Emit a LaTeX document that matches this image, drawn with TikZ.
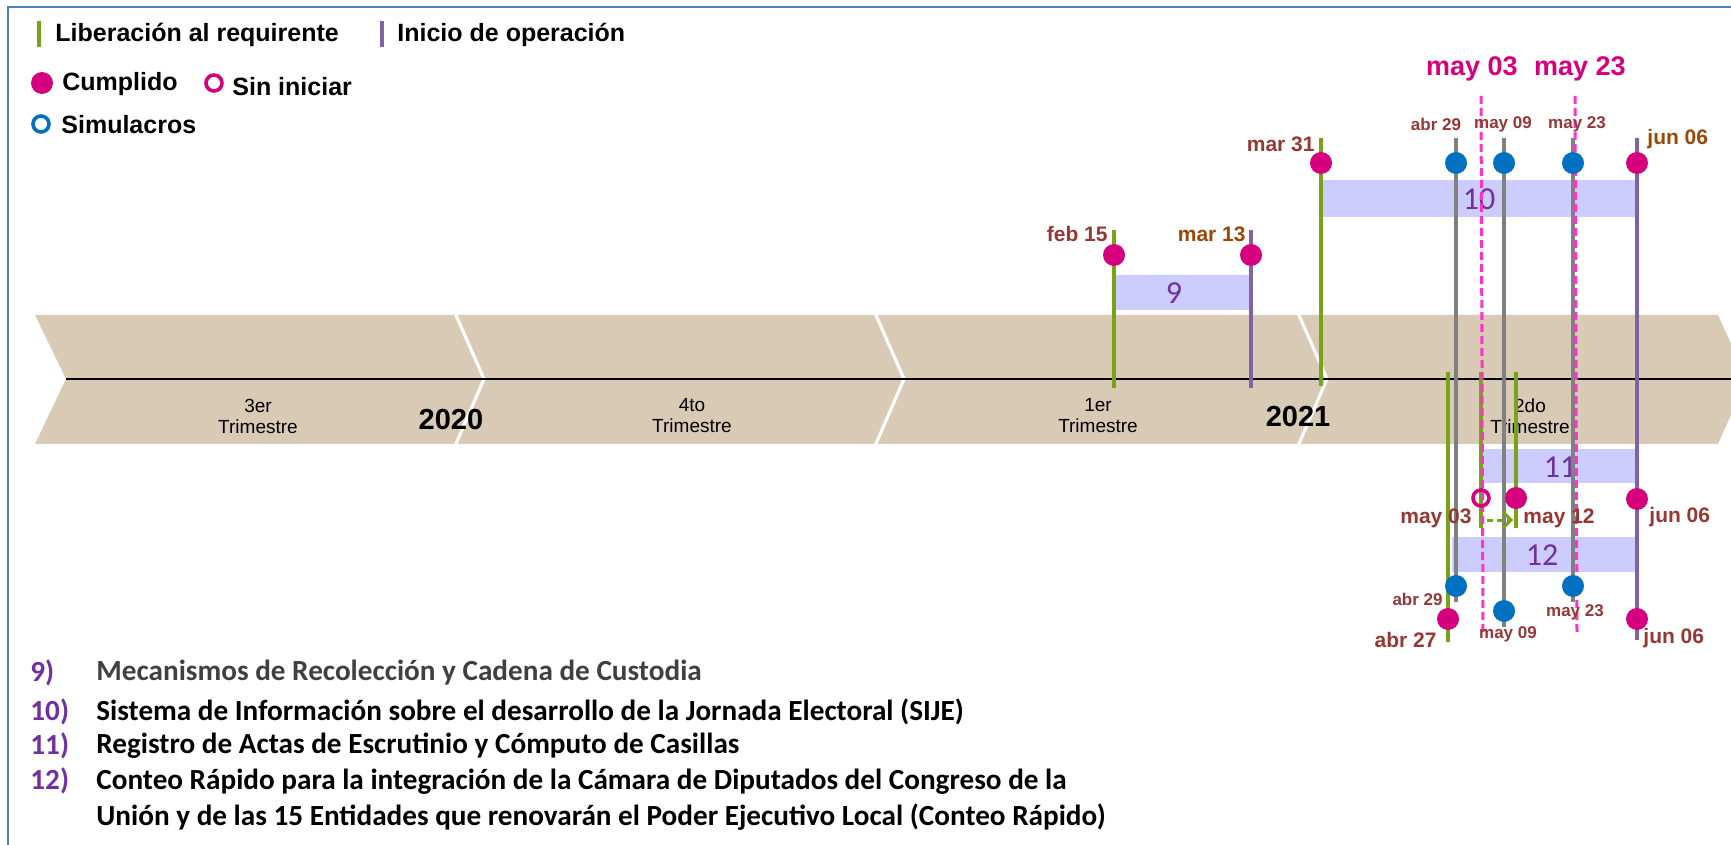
\documentclass[tikz,border=0pt]{standalone}
\usepackage{fontspec}
\setmainfont{Liberation Sans}
\newfontfamily\listfont{Carlito}
\usetikzlibrary{arrows.meta}

\definecolor{bandtan}{RGB}{216,202,180}
\definecolor{libgreen}{RGB}{122,162,24}
\definecolor{inipurple}{RGB}{128,100,162}
\definecolor{simgray}{RGB}{128,128,128}
\definecolor{cutpink}{RGB}{255,51,204}
\definecolor{barblue}{RGB}{204,204,255}
\definecolor{donemag}{RGB}{214,0,127}
\definecolor{drillblue}{RGB}{0,112,192}
\definecolor{datered}{RGB}{149,55,53}
\definecolor{dateorange}{RGB}{152,72,7}
\definecolor{numpurple}{RGB}{112,48,160}
\definecolor{frameblue}{RGB}{79,129,189}

\begin{document}
\begin{tikzpicture}[
  x=0.5pt, y=-0.5pt,
  band/.style={fill=bandtan},
  gap/.style={draw=white, line width=1.6pt},
  axis/.style={draw=black, line width=1.3pt},
  libline/.style={draw=libgreen, line width=2pt},
  iniline/.style={draw=inipurple, line width=2pt},
  simline/.style={draw=simgray, line width=2pt},
  cutoff/.style={draw=cutpink, line width=1.5pt, dash pattern=on 4pt off 2pt},
  bar/.style={fill=barblue},
  done/.style={circle, fill=donemag, minimum size=11pt, inner sep=0pt},
  pending/.style={circle, draw=donemag, line width=1.8pt, minimum size=8pt, inner sep=0pt},
  drill/.style={circle, fill=drillblue, minimum size=11pt, inner sep=0pt},
  drillkey/.style={pending, draw=drillblue},
  key/.style={font=\fontsize{12.5pt}{15pt}\selectfont\bfseries, inner sep=0pt, anchor=west},
  qtr/.style={font=\fontsize{9.5pt}{10.5pt}\selectfont, align=center},
  year/.style={font=\fontsize{14.5pt}{16pt}\selectfont\bfseries},
  date/.style={font=\fontsize{10.5pt}{12pt}\selectfont\bfseries, text=datered, inner sep=0pt},
  sdate/.style={date, font=\fontsize{8.5pt}{10pt}\selectfont\bfseries},
  cut/.style={font=\fontsize{13.5pt}{16pt}\selectfont\bfseries, text=donemag, inner sep=0pt},
  num/.style={font=\listfont\fontsize{16pt}{18pt}\selectfont, text=numpurple, inner sep=0pt},
  item/.style={font=\listfont\fontsize{14.6pt}{18pt}\selectfont\bfseries, anchor=west, inner sep=0pt, align=left},
  itemno/.style={item, text=numpurple}
]
\useasboundingbox (0,0) rectangle (1731,845);
\fill[white] (0,0) rectangle (1731,845);
\draw[frameblue, line width=1pt] (8,845) -- (8,7) -- (1731,7);

% legend
\draw[libline] (39,21) -- (39,47);
\node[key] (klib) at (55,35) {Liberación al requirente};
\draw[iniline] (382,21) -- (382,47);
\node[key] (kini) at (397,35) {Inicio de operación};
\node[done] (kdone) at (42,83) {};
\node[key] (kdonet) at (62,84) {Cumplido};
\node[pending] (kpend) at (214,83) {};
\node[key] (kpendt) at (232,87) {Sin iniciar};
\node[drillkey] (kdrill) at (41,124) {};
\node[key] (kdrillt) at (61,125) {Simulacros};

% timeline band
\fill[band] (35,315) -- (1718,315) -- (1747,379) -- (1718,444) -- (35,444) -- (66,379) -- cycle;
\foreach \x in {455,875,1298}
  \draw[gap] (\x,313) -- (\x+29,379) -- (\x,446);
\draw[axis] (66,379) -- (1731,379);
\node[qtr] (q3) at (258,416) {3er\\Trimestre};
\node[qtr] (q4) at (692,416) {4to\\Trimestre};
\node[qtr] (q1) at (1098,416) {1er\\Trimestre};
\node[qtr] (q2) at (1530,416) {2do\\Trimestre};
\node[year] (y20) at (451,420) {2020};
\node[year] (y21) at (1298,417) {2021};

% bars
\fill[bar] (1116,275) rectangle (1249,310);
\fill[bar] (1323,180) rectangle (1637,217);
\fill[bar] (1483,449) rectangle (1637,483);
\fill[bar] (1452,537) rectangle (1635,572);
\node[num] (n9) at (1174,293) {9};
\node[num] (n10) at (1479,199) {10};
\node[num] (n11) at (1560,467) {11};
\node[num] (n12) at (1542,555) {12};

% vertical markers
\coordinate (g9t) at (1114,230);  \coordinate (g9b) at (1114,388);
\coordinate (p9t) at (1251,230);  \coordinate (p9b) at (1251,388);
\coordinate (g10t) at (1321,138); \coordinate (g10b) at (1321,386);
\coordinate (p10t) at (1637,138); \coordinate (p10b) at (1637,640);
\coordinate (g11t) at (1481,372); \coordinate (g11b) at (1481,528);
\coordinate (h11t) at (1516,372); \coordinate (h11b) at (1516,528);
\coordinate (g12t) at (1448,372); \coordinate (g12b) at (1448,642);
\coordinate (s1t) at (1456,138);  \coordinate (s1b) at (1456,602);
\coordinate (s2t) at (1504,138);  \coordinate (s2b) at (1504,627);
\coordinate (s3t) at (1573,138);  \coordinate (s3b) at (1573,602);
\draw[simline] (s1t) -- (s1b);
\draw[simline] (s2t) -- (s2b);
\draw[simline] (s3t) -- (s3b);
\draw[libline] (g9t) -- (g9b);
\draw[iniline] (p9t) -- (p9b);
\draw[libline] (g10t) -- (g10b);
\draw[iniline] (p10t) -- (p10b);
\draw[libline] (g12t) -- (g12b);
\draw[libline] (g11t) -- (g11b);
\draw[libline] (h11t) -- (h11b);

% cut-off dates
\node[cut] (cmay3) at (1472,69) {may 03};
\node[cut] (cmay23) at (1580,69) {may 23};
\coordinate (k1t) at (1481,96); \coordinate (k1b) at (1483,633);
\coordinate (k2t) at (1575,96); \coordinate (k2b) at (1577,633);
\draw[cutoff] (k1t) -- (k1b);
\draw[cutoff] (k2t) -- (k2b);

% shift of item 11
\coordinate (a11s) at (1487,520); \coordinate (a11e) at (1513,520);
\draw[libline, line width=1.5pt, dash pattern=on 3pt off 2pt,
  -{Straight Barb[length=4pt,width=8pt,line width=1.5pt]}] (a11s) -- (a11e);

% milestones 9
\node[done] (c9a) at (1114,255) {};
\node[done] (c9b) at (1251,255) {};
\node[date, anchor=east] (t9a) at (1108,234) {feb 15};
\node[date, anchor=east, text=dateorange] (t9b) at (1246,234) {mar 13};

% milestones 10
\node[done] (c10a) at (1321,163) {};
\node[drill] (d1a) at (1456,163) {};
\node[drill] (d2a) at (1504,163) {};
\node[drill] (d3a) at (1573,163) {};
\node[done] (c10b) at (1637,163) {};
\node[date, anchor=east] (t10a) at (1315,144) {mar 31};
\node[sdate] (td1a) at (1436,124) {abr 29};
\node[sdate] (td2a) at (1503,124) {may 09};
\node[sdate] (td3a) at (1577,124) {may 23};
\node[date, anchor=west, text=dateorange] (t10b) at (1647,139) {jun 06};

% milestones 11
\node[pending] (c11a) at (1481,498) {};
\node[done] (c11b) at (1516,498) {};
\node[done] (c11c) at (1637,499) {};
\node[date, anchor=east] (t11a) at (1472,518) {may 03};
\node[date, anchor=west] (t11b) at (1523,518) {may 12};
\node[date, anchor=west] (t11c) at (1649,517) {jun 06};

% milestones 12
\node[drill] (d1b) at (1456,586) {};
\node[drill] (d2b) at (1504,611) {};
\node[drill] (d3b) at (1573,586) {};
\node[done] (c12a) at (1448,619) {};
\node[done] (c12b) at (1637,619) {};
\node[sdate, anchor=east] (td1b) at (1443,599) {abr 29};
\node[sdate] (td2b) at (1508,634) {may 09};
\node[sdate] (td3b) at (1575,612) {may 23};
\node[date, anchor=east] (t12a) at (1437,640) {abr 27};
\node[date, anchor=west] (t12b) at (1643,638) {jun 06};

% list of systems
\node[itemno] (i9) at (30,673) {9)};
\node[item, text=black!75] (l9) at (96,673) {Mecanismos de Recolección y Cadena de Custodia};
\node[itemno] (i10) at (30,712) {10)};
\node[item] (l10) at (96,712) {Sistema de Información sobre el desarrollo de la Jornada Electoral (SIJE)};
\node[itemno] (i11) at (30,746) {11)};
\node[item] (l11) at (96,746) {Registro de Actas de Escrutinio y Cómputo de Casillas};
\node[itemno] (i12) at (30,781) {12)};
\node[item] (l12) at (96,800) {Conteo Rápido para la integración de la Cámara de Diputados del Congreso de la\\
  Unión y de las 15 Entidades que renovarán el Poder Ejecutivo Local (Conteo Rápido)};
\end{tikzpicture}
\end{document}
